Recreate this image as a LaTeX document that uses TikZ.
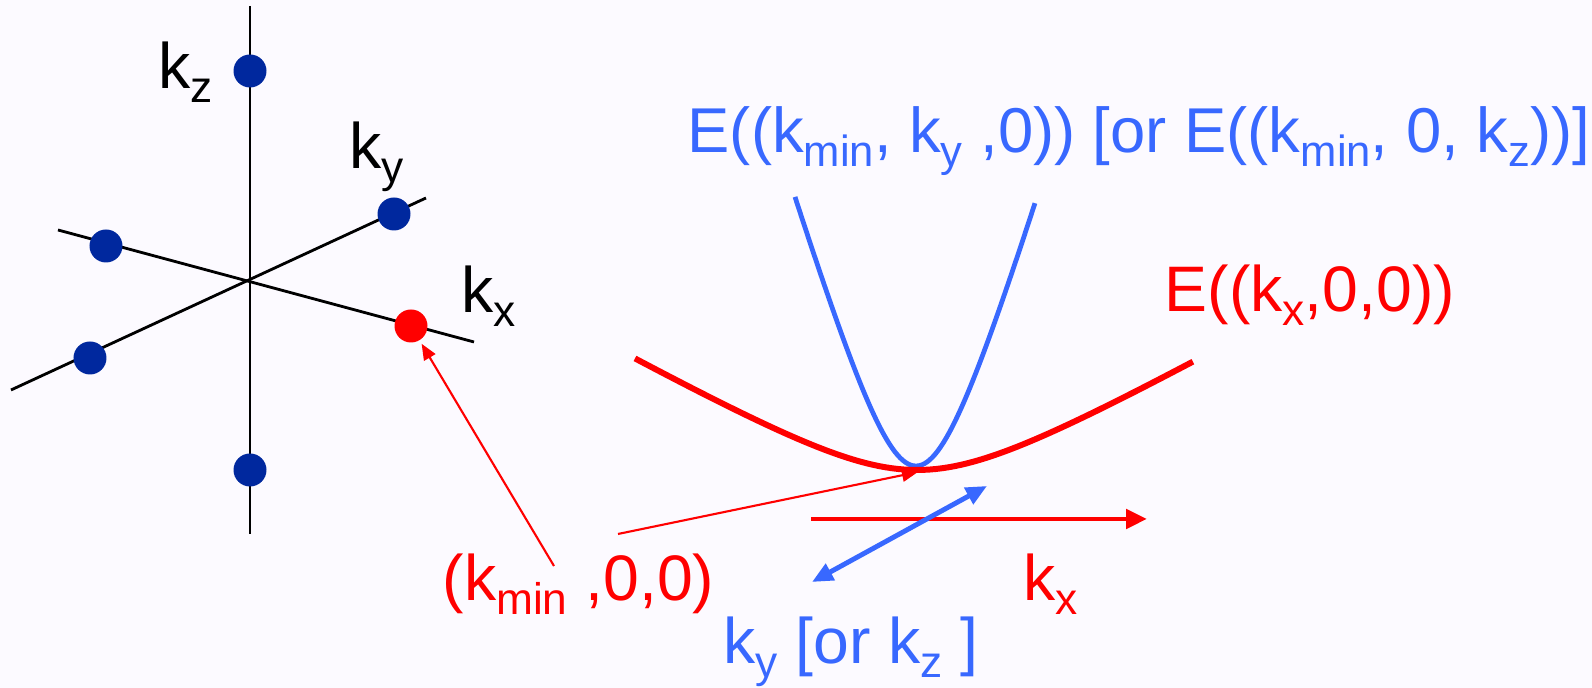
\documentclass[tikz,border=0pt]{standalone}
\usepackage{fontspec}
\setmainfont{Liberation Sans}
\usetikzlibrary{arrows.meta}
\definecolor{dunkelblau}{RGB}{0,40,158}
\definecolor{hellblau}{RGB}{56,104,255}
\definecolor{rot}{RGB}{255,0,0}
\definecolor{hintergrund}{RGB}{252,250,255}
\newcommand{\tief}[1]{\raisebox{-0.14cm}{\fontsize{12.6}{14}\selectfont #1}}

\begin{document}
\begin{tikzpicture}[
      x=1cm, y=1cm,
      achse/.style={black, line width=0.8pt},
      punkt/.style={circle, fill=dunkelblau, inner sep=0pt, minimum size=0.33cm},
      beschriftung/.style={font=\fontsize{18.3}{22}\selectfont, inner sep=0pt, anchor=base west},
      duenn/.style={-{Triangle[length=0.16cm, width=0.13cm]}, rot, line width=0.6pt},
      dick/.style={-{Triangle[length=0.21cm, width=0.19cm]}, rot, line width=1.4pt},
      doppel/.style={{Triangle[length=0.21cm, width=0.18cm]}-{Triangle[length=0.21cm, width=0.18cm]}, hellblau, line width=1.4pt}
    ]
    \fill[hintergrund] (0,0) rectangle (15.92,6.88);
    \useasboundingbox (0,0) rectangle (15.92,6.88);

    % ---------- Achsenkreuz mit Gitterpunkten ----------
    \draw[achse] (2.50,6.82) -- (2.50,1.54);
    \draw[achse] (0.58,4.58) -- (4.74,3.46);
    \draw[achse] (0.11,2.98) -- (4.26,4.90);
    \node[punkt] (zplus)  at (2.50,6.17) {};
    \node[punkt] (zminus) at (2.50,2.18) {};
    \node[punkt] (xminus) at (1.06,4.42) {};
    \node[punkt] (yplus)  at (3.94,4.74) {};
    \node[punkt] (yminus) at (0.90,3.30) {};
    \node[punkt, fill=rot] (kmin) at (4.11,3.62) {};
    \node[beschriftung] (kz) at (1.58,5.99) {k\tief{z}};
    \node[beschriftung] (ky) at (3.49,5.19) {k\tief{y}};
    \node[beschriftung] (kx) at (4.61,3.75) {k\tief{x}};

    % ---------- Energiekurven ----------
    % blau: E((kmin,ky,0)), rot: E((kx,0,0)), beide mit Minimum bei kmin
    \draw[hellblau, line width=1.35pt] plot[domain=-1.21:1.19, samples=90, variable=\t]
      ({9.16+\t},{2.22+3.325*(sqrt(\t*\t+0.25)-0.5)});
    \draw[rot, line width=1.7pt] plot[domain=-2.82:2.76, samples=90, variable=\t]
      ({9.17+\t},{2.18+0.56*(sqrt(\t*\t+1)-1)});
    \node[beschriftung, text=hellblau, scale=0.985, transform shape] (eblau) at (6.87,5.35)
      {E((k\tief{min}, k\tief{y} ,0)) [or E((k\tief{min}, 0, k\tief{z}))]};
    \node[beschriftung, text=rot] (erot) at (11.64,3.76) {E((k\tief{x},0,0))};

    % ---------- Pfeile ----------
    \coordinate (minimum) at (9.18,2.16);
    \coordinate (start1) at (5.54,1.22);
    \coordinate (start2) at (6.18,1.54);
    \draw[duenn, shorten >=1pt] (start1) -- (kmin);
    \draw[duenn] (start2) -- (minimum);
    \coordinate (kxanfang) at (8.11,1.69);
    \coordinate (kxende)   at (11.47,1.69);
    \draw[dick] (kxanfang) -- (kxende);
    \coordinate (kyanfang) at (8.12,1.06);
    \coordinate (kyende)   at (9.87,2.02);
    \draw[doppel] (kyanfang) -- (kyende);

    \node[beschriftung, text=rot] (kminlabel) at (4.42,0.87) {(k\tief{min} ,0,0)};
    \node[beschriftung, text=rot] (kxlabel) at (10.23,0.87) {k\tief{x}};
    \node[beschriftung, text=hellblau] (kylabel) at (7.23,0.24) {k\tief{y} [or k\tief{z} ]};
  \end{tikzpicture}
\end{document}
